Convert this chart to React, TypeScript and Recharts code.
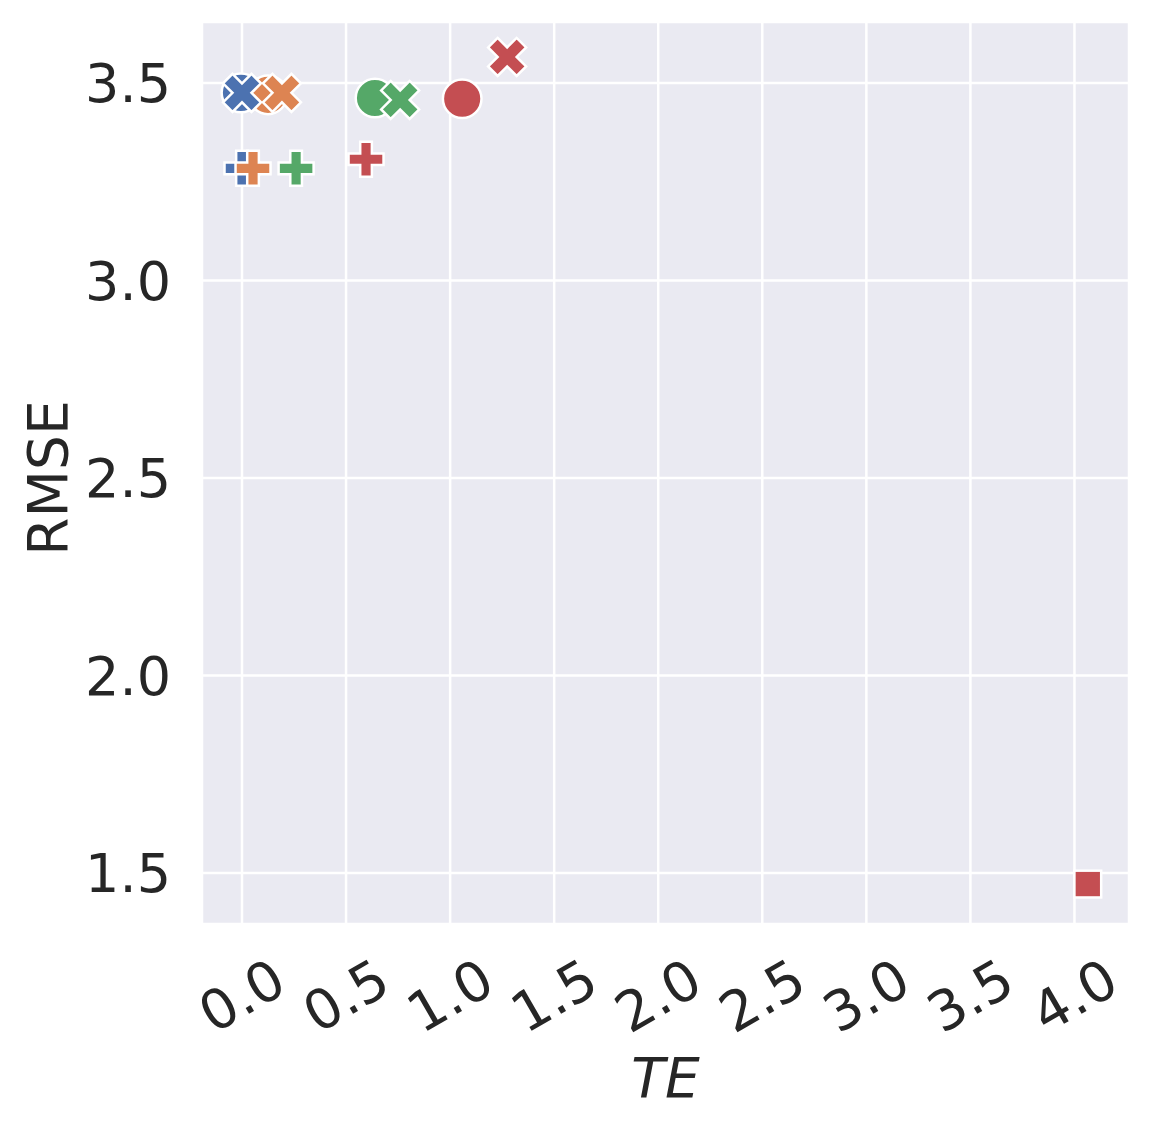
import React from "react";
import {
  ScatterChart,
  Scatter,
  XAxis,
  YAxis,
  CartesianGrid,
} from "recharts";

// seaborn "deep" palette, one colour per method
const colors = ["#4C72B0", "#DD8452", "#55A868", "#C44E52"];

// circle markers
const circleTE = [-0.005, 0.125, 0.639, 1.058];
const circleRMSE = [3.475, 3.47, 3.462, 3.46];

// X markers
const crossTE = [0.0, 0.192, 0.76, 1.274];
const crossRMSE = [3.475, 3.475, 3.457, 3.566];

// plus markers
const plusTE = [0.0, 0.053, 0.26, 0.596];
const plusRMSE = [3.284, 3.284, 3.284, 3.307];

// square markers (only red visible)
const squareTE = [4.064];
const squareRMSE = [1.472];
const squareColors = ["#C44E52"];

const xTicks = [0, 0.5, 1, 1.5, 2, 2.5, 3, 3.5, 4];
const yTicks = [1.5, 2, 2.5, 3, 3.5];

const X_DOMAIN: [number, number] = [-0.1922, 4.262];
const Y_DOMAIN: [number, number] = [1.3709, 3.6544];

const FONT = "DejaVu Sans";
const TEXT = "#262626";
const EDGE = 2.5;

function build(xs: number[], ys: number[], cs: string[]) {
  return xs.map((x, i) => ({ x, y: ys[i], color: cs[i] }));
}

const circles = build(circleTE, circleRMSE, colors);
const crosses = build(crossTE, crossRMSE, colors);
const pluses = build(plusTE, plusRMSE, colors);
const squares = build(squareTE, squareRMSE, squareColors);

// matplotlib filled marker outlines (unit coordinates)
const X_PTS = [
  [-1, -2], [0, -1], [1, -2], [2, -1], [1, 0], [2, 1],
  [1, 2], [0, 1], [-1, 2], [-2, 1], [-1, 0], [-2, -1],
];
const P_PTS = [
  [-1, -3], [1, -3], [1, -1], [3, -1], [3, 1], [1, 1],
  [1, 3], [-1, 3], [-1, 1], [-3, 1], [-3, -1], [-1, -1],
];

function poly(pts: number[][], cx: number, cy: number, k: number) {
  return pts.map(([a, b]) => `${cx + a * k},${cy + b * k}`).join(" ");
}

function makeShape(kind: string) {
  return (props: any) => {
    const { cx, cy, payload } = props;
    const fill = payload.color;
    if (kind === "circle") {
      return <circle cx={cx} cy={cy} r={19.3} fill={fill} stroke="#fff" strokeWidth={EDGE} />;
    }
    if (kind === "cross") {
      return <polygon points={poly(X_PTS, cx, cy, 38 / 4)} fill={fill} stroke="#fff" strokeWidth={EDGE} />;
    }
    if (kind === "plus") {
      return <polygon points={poly(P_PTS, cx, cy, 35 / 6)} fill={fill} stroke="#fff" strokeWidth={EDGE} />;
    }
    const s = 26.8;
    return <rect x={cx - s / 2} y={cy - s / 2} width={s} height={s} fill={fill} stroke="#fff" strokeWidth={EDGE} />;
  };
}

function XTick(props: any) {
  const { x, y, payload } = props;
  const cy = y + 72;
  return (
    <text
      x={x}
      y={cy}
      transform={`rotate(-30 ${x} ${cy})`}
      textAnchor="middle"
      dominantBaseline="central"
      fontSize={55}
      fontFamily={FONT}
      fill={TEXT}
    >
      {Number(payload.value).toFixed(1)}
    </text>
  );
}

function XLabel(props: any) {
  const vb = props.viewBox;
  return (
    <text
      x={vb.x + vb.width / 2}
      y={vb.y + 173}
      textAnchor="middle"
      fontSize={55}
      fontStyle="italic"
      fontFamily={FONT}
      fill={TEXT}
    >
      TE
    </text>
  );
}

function YLabel(props: any) {
  const vb = props.viewBox;
  const lx = 67;
  const ly = vb.y + vb.height / 2 + 5;
  return (
    <text
      x={lx}
      y={ly}
      transform={`rotate(-90 ${lx} ${ly})`}
      textAnchor="middle"
      fontSize={55}
      fontFamily={FONT}
      fill={TEXT}
    >
      RMSE
    </text>
  );
}

export default function App() {
  return (
    <div style={{ position: "absolute", left: 0, top: 0, background: "#fff" }}>
      <ScatterChart
        width={1149}
        height={1128}
        margin={{ top: 22, right: 20, bottom: 0, left: 0 }}
      >
        <CartesianGrid
          fill="#EAEAF2"
          fillOpacity={1}
          stroke="#ffffff"
          strokeWidth={2.5}
        />
        <XAxis
          dataKey="x"
          type="number"
          domain={X_DOMAIN}
          ticks={xTicks}
          interval={0}
          allowDataOverflow
          axisLine={false}
          tickLine={false}
          tickSize={0}
          tickMargin={0}
          height={204}
          tick={(p: any) => <XTick {...p} />}
          label={(p: any) => <XLabel {...p} />}
        />
        <YAxis
          dataKey="y"
          type="number"
          domain={Y_DOMAIN}
          ticks={yTicks}
          interval={0}
          allowDataOverflow
          axisLine={false}
          tickLine={false}
          tickSize={0}
          tickMargin={31}
          width={202}
          tickFormatter={(v: number) => v.toFixed(1)}
          tick={{ fontSize: 54, fontFamily: FONT, fill: TEXT }}
          label={(p: any) => <YLabel {...p} />}
        />
        <Scatter data={circles} shape={makeShape("circle")} isAnimationActive={false} />
        <Scatter data={crosses} shape={makeShape("cross")} isAnimationActive={false} />
        <Scatter data={pluses} shape={makeShape("plus")} isAnimationActive={false} />
        <Scatter data={squares} shape={makeShape("square")} isAnimationActive={false} />
      </ScatterChart>
    </div>
  );
}
